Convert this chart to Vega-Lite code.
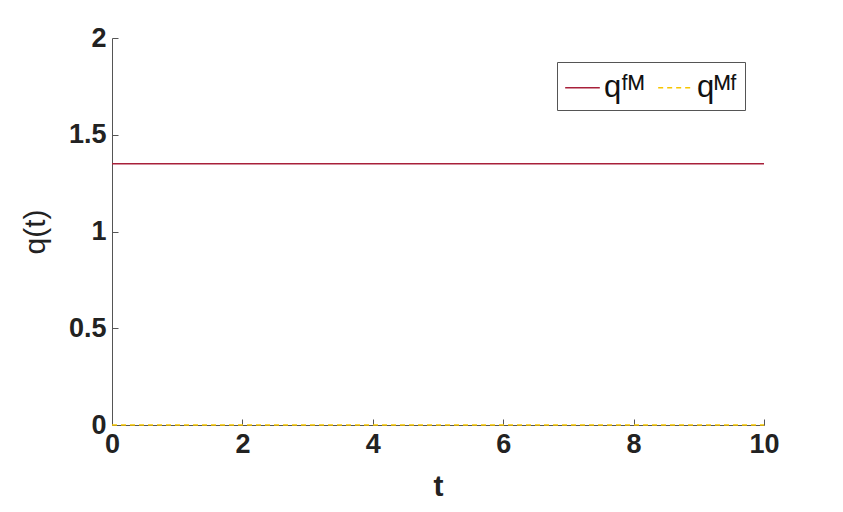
{
  "$schema": "https://vega.github.io/schema/vega-lite/v6.json",
  "width": 652,
  "height": 387,
  "autosize": {"type": "none"},
  "padding": {"left": 112, "top": 38, "right": 79, "bottom": 87},
  "background": "white",
  "config": {
    "view": {"stroke": null},
    "font": "Liberation Sans"
  },
  "data": {
    "values": [
      {"t": 0, "q": 1.35, "series": "FM"},
      {"t": 10, "q": 1.35, "series": "FM"},
      {"t": 0, "q": 0, "series": "MF"},
      {"t": 10, "q": 0, "series": "MF"}
    ]
  },
  "mark": {"type": "line", "strokeWidth": 1.5, "clip": false},
  "encoding": {
    "x": {
      "field": "t", "type": "quantitative",
      "scale": {"domain": [0, 10], "nice": false, "zero": false},
      "axis": {
        "values": [0, 2, 4, 6, 8, 10], "labelExpr": "'' + datum.value", "grid": false, "tickSize": -6,
        "domainColor": "#555", "tickColor": "#555",
        "labelFont": "Liberation Sans", "labelFontSize": 27, "labelFontWeight": "bold", "labelColor": "#222",
        "labelPadding": 12, "labelFlush": false,
        "title": "t", "titleFontSize": 30, "titleFontWeight": "bold", "titleColor": "#222", "titlePadding": 14
      }
    },
    "y": {
      "field": "q", "type": "quantitative",
      "scale": {"domain": [0, 2], "nice": false},
      "axis": {
        "values": [0, 0.5, 1, 1.5, 2], "labelExpr": "'' + datum.value", "grid": false, "tickSize": -6,
        "domainColor": "#555", "tickColor": "#555",
        "labelFont": "Liberation Sans", "labelFontSize": 27, "labelFontWeight": "bold", "labelColor": "#222",
        "labelPadding": 12, "labelFlush": false,
        "title": "q(t)", "titleFontSize": 30, "titleFontWeight": "normal", "titleColor": "#222", "titlePadding": 18
      }
    },
    "color": {
      "field": "series", "type": "nominal",
      "scale": {"domain": ["FM", "MF"], "range": ["#A8203A", "#F7C600"]},
      "legend": {
        "orient": "none", "legendX": 445, "legendY": 24,
        "direction": "horizontal", "title": null,
        "labelExpr": "datum.value == 'FM' ? 'qᶠᴹ' : 'qᴹᶠ'",
        "labelFontSize": 31, "labelColor": "#111", "labelFont": "Liberation Sans",
        "symbolType": "stroke", "symbolSize": 1200, "symbolStrokeWidth": 1.5,
        "strokeColor": "#555", "fillColor": "white", "padding": 7,
        "columnPadding": 10, "labelOffset": 3
      }
    },
    "strokeDash": {
      "field": "series", "type": "nominal",
      "scale": {"domain": ["FM", "MF"], "range": [[1, 0], [5, 4]]},
      "legend": null
    }
  }
}
